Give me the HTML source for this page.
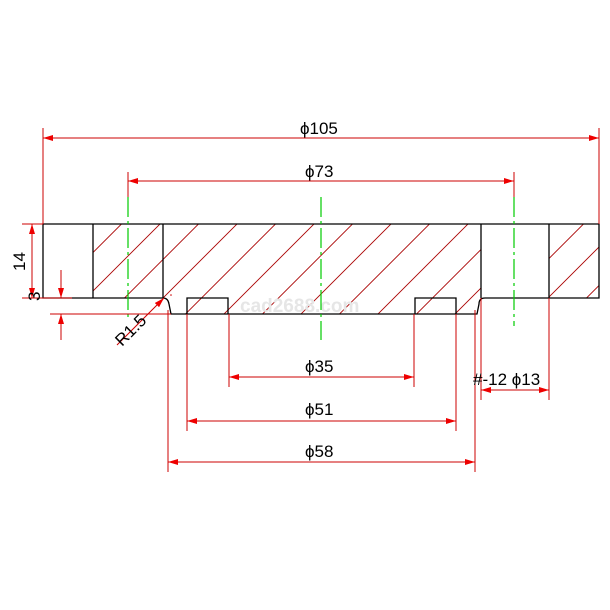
<!DOCTYPE html>
<html><head><meta charset="utf-8"><style>
html,body{margin:0;padding:0;background:#fff}
svg{display:block}
text{font-family:"Liberation Sans",sans-serif;font-size:17px;fill:#000}
</style></head><body>
<svg width="610" height="610" viewBox="0 0 610 610" xmlns="http://www.w3.org/2000/svg">
<defs>
<clipPath id="c1"><polygon points="93,224 163,224 163,298 93,298"/></clipPath>
<clipPath id="c2"><polygon points="163,224 481,224 481,298 475,298 475,314 171,314 171,298 163,298"/></clipPath>
<clipPath id="c3"><polygon points="549,224 599,224 599,298 549,298"/></clipPath>
<marker id="a" viewBox="0 0 10 6" refX="10" refY="3" markerWidth="10" markerHeight="6" orient="auto-start-reverse" markerUnits="userSpaceOnUse"><path d="M0,0 L10,3 L0,6 z" fill="#e00"/></marker>
<g id="hl" stroke="#a00" stroke-width="0.9">
<line x1="-23" y1="330" x2="107" y2="200"/>
<line x1="15.5" y1="330" x2="145.5" y2="200"/>
<line x1="54" y1="330" x2="184" y2="200"/>
<line x1="92.5" y1="330" x2="222.5" y2="200"/>
<line x1="131" y1="330" x2="261" y2="200"/>
<line x1="169.5" y1="330" x2="299.5" y2="200"/>
<line x1="208" y1="330" x2="338" y2="200"/>
<line x1="246.5" y1="330" x2="376.5" y2="200"/>
<line x1="285" y1="330" x2="415" y2="200"/>
<line x1="323.5" y1="330" x2="453.5" y2="200"/>
<line x1="362" y1="330" x2="492" y2="200"/>
<line x1="400.5" y1="330" x2="530.5" y2="200"/>
<line x1="439" y1="330" x2="569" y2="200"/>
<line x1="477.5" y1="330" x2="607.5" y2="200"/>
<line x1="516" y1="330" x2="646" y2="200"/>
<line x1="554.5" y1="330" x2="684.5" y2="200"/>
</g>
</defs>
<!-- hatching -->
<g clip-path="url(#c1)"><use href="#hl"/></g>
<g clip-path="url(#c2)"><use href="#hl"/></g>
<g clip-path="url(#c3)"><use href="#hl"/></g>
<!-- watermark -->
<text x="240" y="312" style="font-size:19px;fill:#e6e6e6;font-weight:bold">cad2688.com</text>
<!-- outline -->
<g stroke="#000" stroke-width="1.3" fill="none">
<path d="M43,224 H599 V298 H485 Q479,298 479,304 L477,314 H171 L169,304 Q168,298 163,298 H43 Z"/>
<line x1="93" y1="224" x2="93" y2="298"/>
<line x1="163" y1="224" x2="163" y2="298"/>
<line x1="481" y1="224" x2="481" y2="298"/>
<line x1="549" y1="224" x2="549" y2="298"/>
<path d="M187,314 V298 H228 V314"/>
<path d="M415,314 V298 H456 V314"/>
</g>
<!-- centerlines -->
<g stroke="#0c0" stroke-width="1.2" stroke-dasharray="20,4,3,4">
<line x1="128" y1="197" x2="128" y2="320"/>
<line x1="321" y1="197" x2="321" y2="340"/>
<line x1="514" y1="197" x2="514" y2="326"/>
</g>
<!-- extension lines -->
<g stroke="#c00" stroke-width="1">
<line x1="43" y1="128" x2="43" y2="224"/>
<line x1="599" y1="128" x2="599" y2="224"/>
<line x1="128" y1="172" x2="128" y2="197"/>
<line x1="514" y1="172" x2="514" y2="197"/>
<line x1="229" y1="314" x2="229" y2="387"/>
<line x1="414" y1="314" x2="414" y2="387"/>
<line x1="187" y1="314" x2="187" y2="431"/>
<line x1="456" y1="314" x2="456" y2="431"/>
<line x1="168" y1="310" x2="168" y2="472"/>
<line x1="475" y1="310" x2="475" y2="472"/>
<line x1="481" y1="298" x2="481" y2="400"/>
<line x1="549" y1="298" x2="549" y2="400"/>
<line x1="22" y1="224" x2="43" y2="224"/>
<line x1="22" y1="298" x2="72" y2="298"/>
<line x1="50" y1="314" x2="171" y2="314"/>
<line x1="61" y1="270" x2="61" y2="298" marker-end="url(#a)"/>
<line x1="61" y1="340" x2="61" y2="314" marker-end="url(#a)"/>
<line x1="117" y1="345" x2="164" y2="298" marker-end="url(#a)"/>
</g>
<!-- dimension lines -->
<g stroke="#c00" stroke-width="1" marker-start="url(#a)" marker-end="url(#a)">
<line x1="43" y1="138" x2="599" y2="138"/>
<line x1="128" y1="181" x2="514" y2="181"/>
<line x1="229" y1="377" x2="414" y2="377"/>
<line x1="187" y1="421" x2="456" y2="421"/>
<line x1="168" y1="462" x2="475" y2="462"/>
<line x1="481" y1="390" x2="549" y2="390"/>
<line x1="32" y1="224" x2="32" y2="298"/>
</g>
<!-- labels -->
<text x="300" y="134">ϕ105</text>
<text x="305" y="177">ϕ73</text>
<text x="305" y="372">ϕ35</text>
<text x="305" y="415">ϕ51</text>
<text x="305" y="457">ϕ58</text>
<text x="473" y="385">#-12  ϕ13</text>
<text transform="translate(25,271) rotate(-90)">14</text>
<text transform="translate(40,301) rotate(-90)">3</text>
<text transform="translate(122,347) rotate(-45)">R1.5</text>
<circle cx="171" cy="295" r="0.8" fill="#c00"/>
</svg>
</body></html>
